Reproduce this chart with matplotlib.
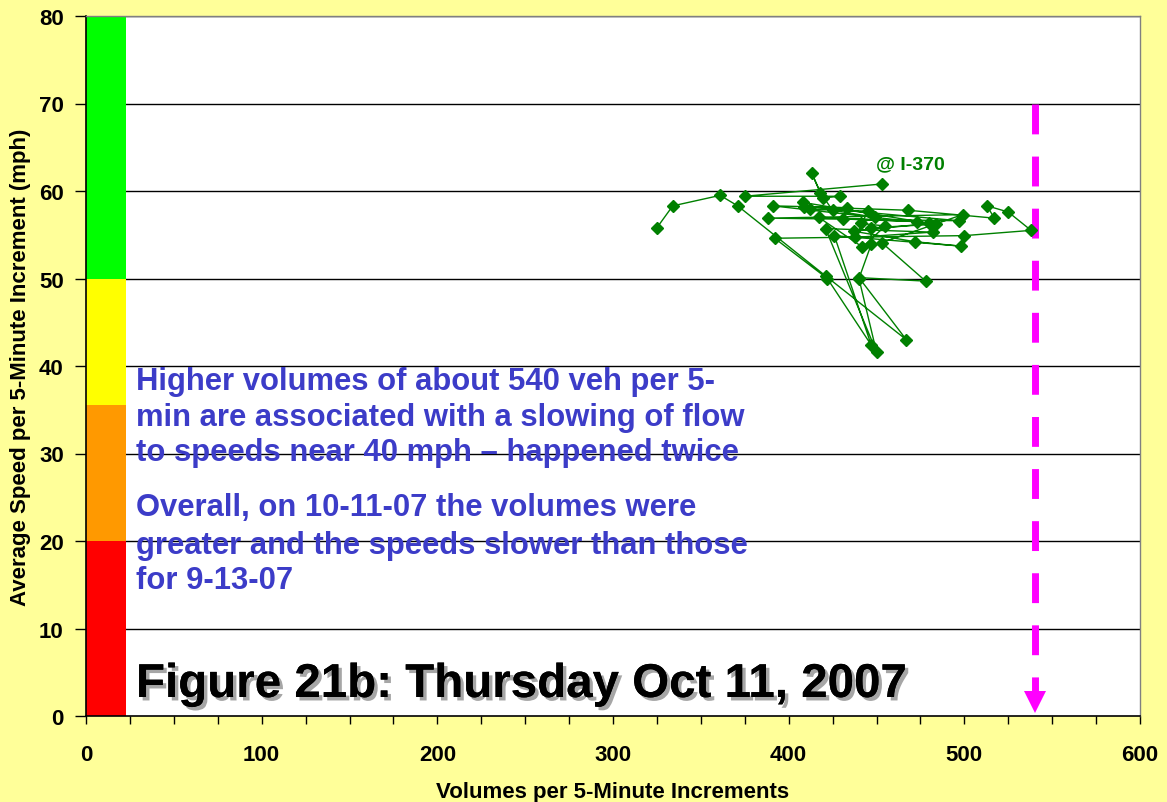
import matplotlib
matplotlib.use("Agg")
import matplotlib.pyplot as plt
import matplotlib.patheffects as pe
from matplotlib.ticker import MultipleLocator

# ---- data ----
volumes = [325, 334, 361, 371, 421, 467, 440, 478, 453, 499, 388, 497, 409, 468,
           517, 513, 525, 538, 500, 392, 422, 447, 426, 498, 472, 437, 480, 408,
           412, 445, 438, 482, 421, 450, 440, 447, 447, 484, 391, 433, 431, 473,
           417, 442, 455, 441, 449, 425, 418, 413, 419.5, 429, 375, 453]
speeds = [55.8, 58.3, 59.5, 58.3, 50.3, 43.0, 50.1, 49.7, 54.1, 57.3, 56.9, 56.6,
          58.2, 57.8, 56.9, 58.3, 57.6, 55.5, 54.9, 54.6, 50.0, 42.4, 54.9, 53.7,
          54.2, 55.4, 56.3, 58.7, 57.9, 57.7, 54.7, 55.3, 55.7, 41.6, 50.0, 53.9,
          55.8, 56.2, 58.3, 58.1, 56.8, 56.5, 57.0, 53.6, 56.0, 56.3, 57.0, 57.8,
          59.8, 62.1, 59.2, 59.4, 59.4, 60.8]

band_bottoms = [0, 20, 35.5, 50]
band_tops = [20, 35.5, 50, 80]
band_colors = ["#FF0000", "#FF9900", "#FFFF00", "#00FF00"]
band_width = 22.5

capacity_volume = 540
capacity_top = 70

x_ticks = [0, 100, 200, 300, 400, 500, 600]
y_ticks = [0, 10, 20, 30, 40, 50, 60, 70, 80]

note_lines = ["Higher volumes of about 540 veh per 5-",
              "min are associated with a slowing of flow",
              "to speeds near 40 mph \u2013 happened twice"]
note2_lines = ["Overall, on 10-11-07 the volumes were",
               "greater and the speeds slower than those",
               "for 9-13-07"]
title_text = "Figure 21b: Thursday Oct 11, 2007"
series_label = "@ I-370"

# ---- figure ----
plt.rcParams['font.family'] = ['Liberation Sans', 'DejaVu Sans']
fig = plt.figure(figsize=(11.67, 8.03), dpi=100)
fig.patch.set_facecolor("#FFFF99")
ax = fig.add_axes([86/1167, 1-717/803, (1140-86)/1167, (717-17)/803])
ax.set_facecolor("white")
ax.set_xlim(0, 600)
ax.set_ylim(0, 80)

for y in y_ticks[1:]:
    ax.axhline(y, color="black", lw=1.0, zorder=1)

ax.bar([band_width/2]*4, [t-b for t, b in zip(band_tops, band_bottoms)],
       bottom=band_bottoms, width=band_width, color=band_colors,
       edgecolor="none", zorder=2)

ax.plot(volumes, speeds, color="#008000", lw=1.0, marker="D", markersize=6.3,
        markerfacecolor="#008000", markeredgecolor="#008000", zorder=4)
ax.text(volumes[-1] - 3.5, speeds[-1] + 2.3, series_label, color="#008000",
        fontsize=14, fontweight="bold", ha="left", va="center", zorder=5)

# capacity arrow
ax.plot([capacity_volume, capacity_volume], [capacity_top, 2.8], color="#FF00FF",
        lw=5, linestyle=(0, (4.3, 3.2)), solid_capstyle="butt",
        dash_capstyle="butt", zorder=3)
ax.plot([capacity_volume], [1.56], marker="v", markersize=16, color="#FF00FF",
        markeredgewidth=0, zorder=3, clip_on=False)

blue = "#3C3CC8"
y_pos1 = [382, 418, 453]
y_pos2 = [508, 546, 581]
for line, yp in zip(note_lines, y_pos1):
    fig.text(136/1167, 1-yp/803, line, color=blue, fontsize=22.3,
             fontweight="bold", ha="left", va="center", zorder=6)
for line, yp in zip(note2_lines, y_pos2):
    fig.text(136/1167, 1-yp/803, line, color=blue, fontsize=22.3,
             fontweight="bold", ha="left", va="center", zorder=6)

fig.text(136/1167, 1-686/803, title_text, color="black", fontsize=34.2,
         fontweight="bold", ha="left", va="center",
         path_effects=[pe.withSimplePatchShadow(offset=(2.5, -2.5),
                                                shadow_rgbFace="#909090",
                                                alpha=0.8), pe.Normal()])

# axes formatting
ax.set_xticks(x_ticks)
ax.set_yticks(y_ticks)
ax.xaxis.set_minor_locator(MultipleLocator(25))
ax.tick_params(axis="x", which="both", direction="out", length=6, width=1,
               labelsize=16, pad=14)
ax.tick_params(axis="y", which="major", direction="out", length=8, width=1,
               labelsize=16, pad=8)
for lab in ax.get_xticklabels() + ax.get_yticklabels():
    lab.set_fontweight("bold")
for s in ["left", "bottom"]:
    ax.spines[s].set_color("black")
    ax.spines[s].set_linewidth(1.2)
for s in ["top", "right"]:
    ax.spines[s].set_color("#808080")
    ax.spines[s].set_linewidth(1.0)

ax.set_xlabel("Volumes per 5-Minute Increments", fontsize=16, fontweight="bold",
              labelpad=12)
ax.set_ylabel("Average Speed per 5-Minute Increment (mph)", fontsize=16,
              fontweight="bold", labelpad=6)

fig.savefig("out.png", dpi=100, facecolor=fig.get_facecolor())
